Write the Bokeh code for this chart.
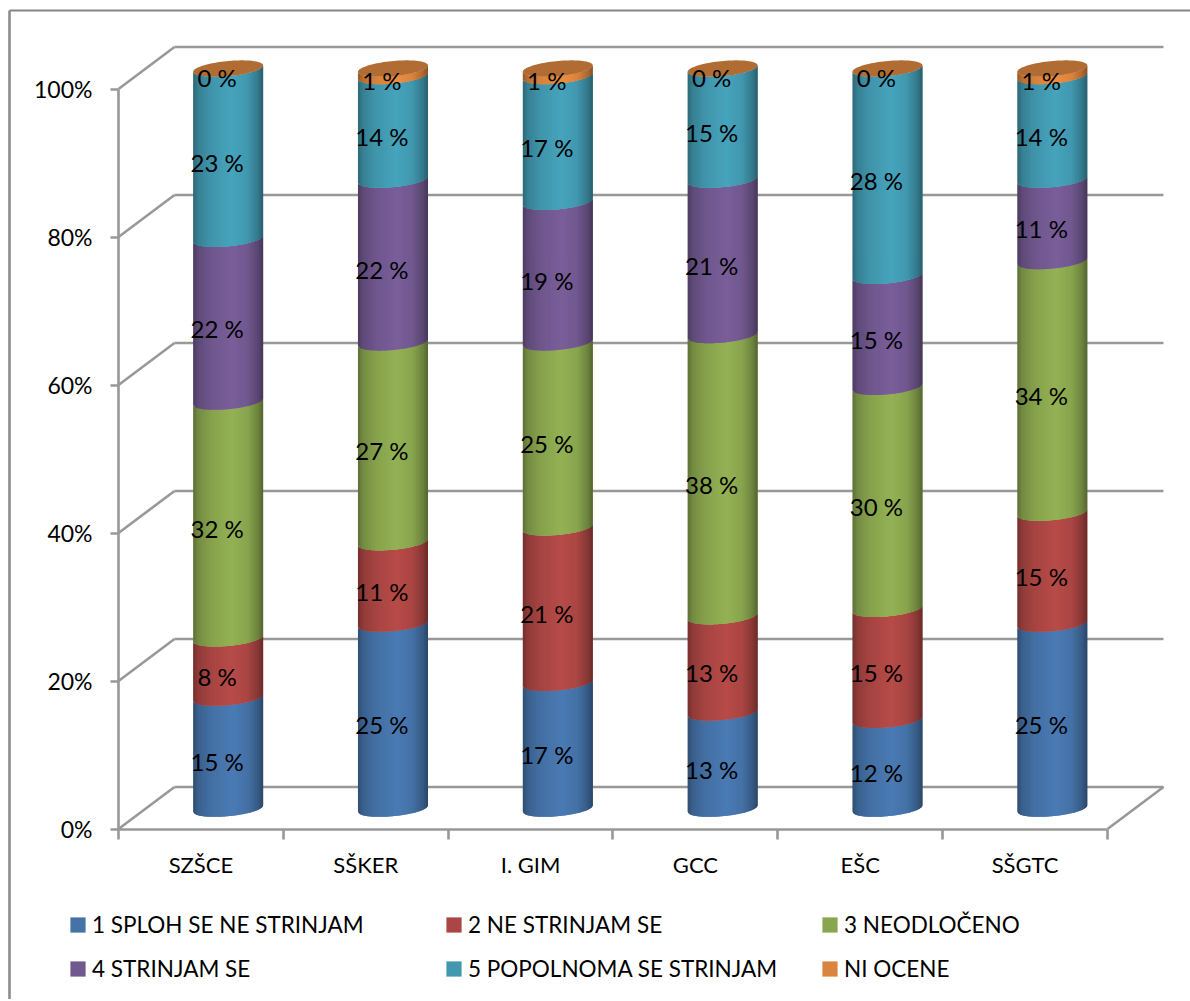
from bokeh.embed import file_html
from bokeh.resources import INLINE
from bokeh.plotting import figure
from bokeh.models import (Range1d, FixedTicker, LinearAxis, Legend, LegendItem,
                          ColumnDataSource)
from bokeh.core.properties import value
import numpy as np

categories = ["SZŠCE", "SŠKER", "I. GIM", "GCC", "EŠC", "SŠGTC"]
series_names = ["1 SPLOH SE NE STRINJAM", "2 NE STRINJAM SE", "3 NEODLOČENO",
                "4 STRINJAM SE", "5 POPOLNOMA SE STRINJAM", "NI OCENE"]
s1 = [15, 25, 17, 13, 12, 25]
s2 = [8, 11, 21, 13, 15, 15]
s3 = [32, 27, 25, 38, 30, 34]
s4 = [22, 22, 19, 21, 15, 11]
s5 = [23, 14, 17, 15, 28, 14]
s6 = [0, 1, 1, 0, 0, 1]
series = [s1, s2, s3, s4, s5, s6]
colors = ["#4572A7", "#AA4643", "#89A54E", "#71588F", "#4198AF", "#DB843D"]
y_ticks = [0, 20, 40, 60, 80, 100]

FONT = "Lato"
GRAY = "#989898"
W, H = 1190, 999
X0_PX, Y0_PX = 118, 828.5
PX_X = 164.83
PX_Y = 7.40

p = figure(width=W, height=H, output_backend="svg", toolbar_location=None,
           x_range=Range1d(-X0_PX / PX_X, (W - X0_PX) / PX_X),
           y_range=Range1d((Y0_PX - H) / PX_Y, Y0_PX / PX_Y),
           x_axis_type=None, y_axis_type=None,
           min_border=0, min_border_left=0, min_border_right=0, min_border_top=0, min_border_bottom=0,
           outline_line_color=None, background_fill_color="white")
p.grid.visible = False

# outer edge of the chart area (top and left only)
p.line([(9 - X0_PX) / PX_X, (W - X0_PX) / PX_X], [(Y0_PX - 10) / PX_Y] * 2, line_color="#858585", line_width=1.8)
p.line([(9 - X0_PX) / PX_X] * 2, [(Y0_PX - 10) / PX_Y, (Y0_PX - H) / PX_Y], line_color="#8c8c8c", line_width=2.6)

# walls
DX, DY = 56 / PX_X, 42 / PX_Y
for t in y_ticks:
    p.line([DX, 6 + DX], [t + DY, t + DY], line_color=GRAY, line_width=2.6)
    p.line([0, DX], [t, t + DY], line_color=GRAY, line_width=2.6)
p.line([6, 6 + DX], [0, DY], line_color=GRAY, line_width=2.6)

# cylinders
CX, CY = 27.2 / PX_X, 20.4 / PX_Y
R = 35 / PX_X
B = 7.6 / PX_Y
T = 3.2 / PX_Y
N = 36
def shade(c, u):
    pts_u = [-1, -0.85, -0.5, 0.1, 0.55, 0.85, 1]
    pts_f = [0.68, 0.85, 0.98, 1.08, 1.0, 0.8, 0.62]
    f = float(np.interp(u, pts_u, pts_f))
    r, g, b = int(c[1:3], 16), int(c[3:5], 16), int(c[5:7], 16)
    return "#%02x%02x%02x" % tuple(min(255, int(v * f)) for v in (r, g, b))
us = np.linspace(-1, 1, N + 1)
du = us[1] - us[0]
def arc(u):
    return -B * np.sqrt(np.clip(1 - u * u, 0, 1)) + T * u

xs, ys, cs = [], [], []
for i in range(6):
    cx = i + 0.5 + CX
    base = 0.0
    for sv, c in zip(series, colors):
        v = sv[i]
        top = base + v
        if v > 0:
            for a in us[:-1]:
                # each strip runs on under its right neighbour, so no seams show
                ua = np.linspace(a, min(a + 2 * du, 1), 5)
                xx = cx + R * ua
                yb = base + CY + arc(ua)
                yt = top + CY + arc(ua)
                xs.append(list(xx) + list(xx[::-1]))
                ys.append(list(yb) + list(yt[::-1]))
                cs.append(shade(c, a + du / 2))
        base = top
src = ColumnDataSource(dict(xs=xs, ys=ys, color=cs))
p.patches("xs", "ys", source=src, fill_color="color", line_color=None)

# top caps
th = np.linspace(0, 2 * np.pi, 90)
capx, capy = [], []
for i in range(6):
    cx = i + 0.5 + CX
    capx.append(list(cx + R * np.cos(th)))
    capy.append(list(sum(sv[i] for sv in series) + CY + B * np.sin(th) + T * np.cos(th)))
p.patches(capx, capy, fill_color="#B06C33", line_color=None)

# data labels
lx, ly, lt = [], [], []
for i in range(6):
    base = 0
    for sv in series:
        lx.append(i + 0.5 + CX)
        ly.append(base + sv[i] / 2 + CY)
        lt.append(f"{sv[i]} %")
        base += sv[i]
p.text(lx, ly, text=lt, text_font=value(FONT), text_font_size="24px", text_color="black",
       text_align="center", text_baseline="middle", x_offset=-11, y_offset=8.5)

# axes
yaxis = LinearAxis(ticker=FixedTicker(ticks=y_ticks), fixed_location=0,
                   major_label_overrides={t: f"{t}%" for t in y_ticks})
yaxis.axis_line_color = GRAY; yaxis.axis_line_width = 2.6
yaxis.major_tick_line_color = GRAY; yaxis.major_tick_line_width = 2.6
yaxis.major_tick_out = 8; yaxis.major_tick_in = 0
yaxis.minor_tick_line_color = None
yaxis.major_label_text_font = FONT; yaxis.major_label_text_font_size = "23px"
yaxis.major_label_text_color = "black"; yaxis.major_label_standoff = 18
yaxis.bounds = (0, 100)
p.add_layout(yaxis, "left")

centers = [i + 0.5 for i in range(6)]
xaxis = LinearAxis(ticker=FixedTicker(ticks=centers, minor_ticks=list(range(7))), fixed_location=0,
                   major_label_overrides={c: n for c, n in zip(centers, categories)})
xaxis.axis_line_color = GRAY; xaxis.axis_line_width = 2.6
xaxis.major_tick_line_color = None
xaxis.minor_tick_line_color = GRAY; xaxis.minor_tick_line_width = 2.6
xaxis.minor_tick_out = 10; xaxis.minor_tick_in = 0
xaxis.major_tick_out = 10; xaxis.major_tick_in = 0
xaxis.major_label_text_font = FONT; xaxis.major_label_text_font_size = "22px"
xaxis.major_label_text_color = "black"; xaxis.major_label_standoff = 12
xaxis.bounds = (0, 6)
p.add_layout(xaxis, "below")

# legend
items = []
for name, c in zip(series_names, colors):
    r = p.quad(left=[float("nan")], right=[float("nan")], top=[float("nan")], bottom=[float("nan")],
               fill_color=c, line_color=None)
    items.append(LegendItem(label=name, renderers=[r]))
leg = Legend(items=items, orientation="horizontal", ncols=3, nrows=2, location=(68, H - 988),
             glyph_width=19, glyph_height=19, label_standoff=5, label_width=348,
             label_text_font=FONT, label_text_font_size="22.5px", label_text_color="black",
             spacing=4, label_height=40, border_line_color=None, background_fill_alpha=0,
             padding=0, margin=0)
p.add_layout(leg)

open("out.html", "w").write(file_html(p, INLINE))
